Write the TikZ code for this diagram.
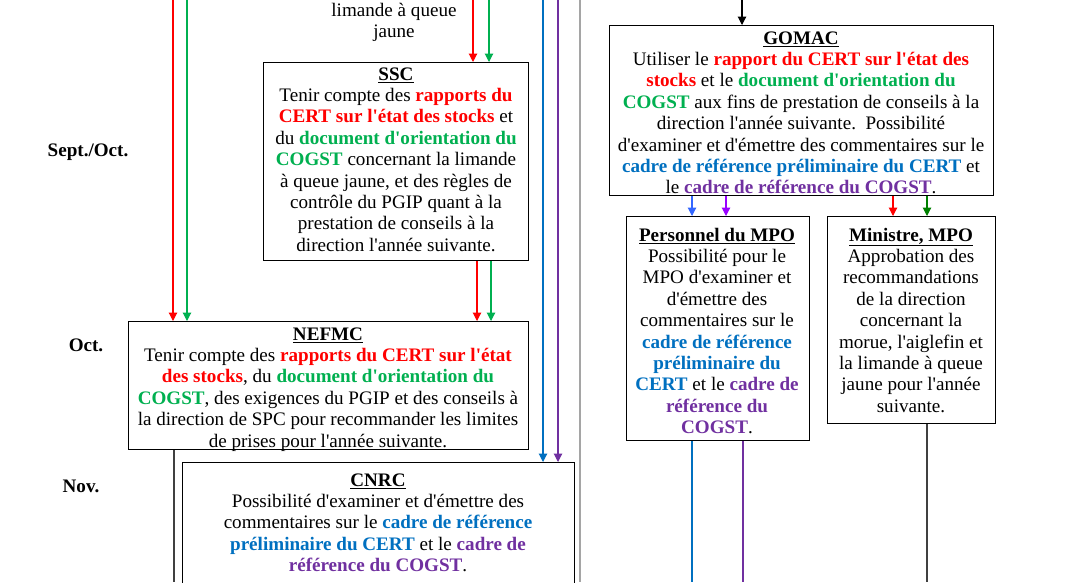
\documentclass[tikz,border=0pt]{standalone}
\usepackage{fontspec}
\newfontfamily\tnr{Liberation Serif}
\usetikzlibrary{arrows.meta}
\definecolor{tred}{RGB}{255,0,0}
\definecolor{tgreen}{RGB}{0,176,80}
\definecolor{tblue}{RGB}{0,112,192}
\definecolor{tpurple}{RGB}{112,48,160}
\definecolor{lblue}{RGB}{51,102,255}
\definecolor{lpurple}{RGB}{153,0,255}
\definecolor{dgreen}{RGB}{0,128,0}
\definecolor{sepgray}{RGB}{165,165,165}
\definecolor{dgray}{RGB}{64,64,64}
\newcommand\rtx[1]{\textcolor{tred}{\textbf{#1}}}
\newcommand\gtx[1]{\textcolor{tgreen}{\textbf{#1}}}
\newcommand\btx[1]{\textcolor{tblue}{\textbf{#1}}}
\newcommand\ptx[1]{\textcolor{tpurple}{\textbf{#1}}}
\newcommand\ttl[1]{\underline{\textbf{#1}}\strut}
\tikzset{
  box/.style={draw, line width=1.1pt, anchor=north west, inner sep=0pt},
  txt/.style={anchor=north, align=center, inner sep=0pt, font=\tnr\fontsize{19.1}{21.4}\selectfont},
  lab/.style={anchor=base, inner sep=0pt, font=\tnr\bfseries\fontsize{19.1}{21.4}\selectfont},
  arr/.style={-{Triangle[width=8.5pt,length=8.5pt]}, line width=1.1pt},
  plain/.style={line width=1.1pt},
}
\begin{document}
\begin{tikzpicture}[x=1pt,y=-1pt]
\useasboundingbox (0,0) rectangle (1089,582);
\clip (0,0) rectangle (1089,582);
\fill[white] (0,0) rectangle (1089,582);

% boxes
\node[box, minimum width=265pt, minimum height=198pt] (ssc) at (263,62) {};
\node[box, minimum width=400pt, minimum height=128pt] (nefmc) at (128,321) {};
\node[box, minimum width=392pt, minimum height=150pt] (cnrc) at (182,462) {};
\node[box, minimum width=384pt, minimum height=170pt] (gomac) at (609,25) {};
\node[box, minimum width=183pt, minimum height=224pt] (pers) at (626,216) {};
\node[box, minimum width=168pt, minimum height=207pt] (mini) at (827,216) {};

% texts
\node[txt] (topT) at (394,1) {\strut limande à queue\\jaune};

\node[txt] (sscT) at (396,65) {\ttl{SSC}\\
Tenir compte des \rtx{rapports du}\\
\rtx{CERT sur l'état des stocks} et\\
du \gtx{document d'orientation du}\\
\gtx{COGST} concernant la limande\\
à queue jaune, et des règles de\\
contrôle du PGIP quant à la\\
prestation de conseils à la\\
direction l'année suivante.};

\node[txt] (nefmcT) at (328,325) {\ttl{NEFMC}\\
Tenir compte des \rtx{rapports du CERT sur l'état}\\
\rtx{des stocks}, du \gtx{document d'orientation du}\\
\gtx{COGST}, des exigences du PGIP et des conseils à\\
la direction de SPC pour recommander les limites\\
de prises pour l'année suivante.};

\node[txt] (cnrcT) at (378,471) {\ttl{CNRC}\\
Possibilité d'examiner et d'émettre des\\
commentaires sur le \btx{cadre de référence}\\
\btx{préliminaire du CERT} et le \ptx{cadre de}\\
\ptx{référence du COGST}.};

\node[txt] (gomacT) at (801,29) {\ttl{GOMAC}\\
Utiliser le \rtx{rapport du CERT sur l'état des}\\
\rtx{stocks} et le \gtx{document d'orientation du}\\
\gtx{COGST} aux fins de prestation de conseils à la\\
direction l'année suivante.\ \ Possibilité\\
d'examiner et d'émettre des commentaires sur le\\
\btx{cadre de référence préliminaire du CERT} et\\
le \ptx{cadre de référence du COGST}.};

\node[txt] (persT) at (717,226) {\ttl{Personnel du MPO}\\
Possibilité pour le\\
MPO d'examiner et\\
d'émettre des\\
commentaires sur le\\
\btx{cadre de référence}\\
\btx{préliminaire du}\\
\btx{CERT} et le \ptx{cadre de}\\
\ptx{référence du}\\
\ptx{COGST}.};

\node[txt] (miniT) at (911,226) {\ttl{Ministre, MPO}\\
Approbation des\\
recommandations\\
de la direction\\
concernant la\\
morue, l'aiglefin et\\
la limande à queue\\
jaune pour l'année\\
suivante.};

% month labels
\node[lab] (sep) at (88,156) {Sept./Oct.};
\node[lab] (oct) at (86,351) {Oct.};
\node[lab] (nov) at (81,492) {Nov.};

% free ends
\coordinate (tl1) at (173,0);
\coordinate (tl2) at (187,0);
\coordinate (tm1) at (473,0);
\coordinate (tm2) at (489,0);
\coordinate (tb1) at (543,0);
\coordinate (tb2) at (558,0);
\coordinate (sgt) at (580,0);
\coordinate (sgb) at (580,582);
\coordinate (tk) at (742,0);
\coordinate (bot) at (0,582);

% connectors
\draw[arr, tred] (tl1) -- (tl1 |- nefmc.north);
\draw[arr, tgreen] (tl2) -- (tl2 |- nefmc.north);
\draw[arr, tred] (tm1) -- (tm1 |- ssc.north);
\draw[arr, tgreen] (tm2) -- (tm2 |- ssc.north);
\draw[arr, tred] (ssc.south -| 477,0) -- (nefmc.north -| 477,0);
\draw[arr, tgreen] (ssc.south -| 491,0) -- (nefmc.north -| 491,0);
\draw[arr, tblue] (tb1) -- (tb1 |- cnrc.north);
\draw[arr, tpurple] (tb2) -- (tb2 |- cnrc.north);
\draw[line width=1.3pt, sepgray] (sgt) -- (sgb);
\draw[line width=2pt, dgray] (nefmc.south -| 174,0) -- (bot -| 174,0);
\draw[arr, black] (tk) -- (tk |- gomac.north);
\draw[arr, lblue] (gomac.south -| 692,0) -- (pers.north -| 692,0);
\draw[arr, lpurple] (gomac.south -| 726,0) -- (pers.north -| 726,0);
\draw[arr, tred] (gomac.south -| 893,0) -- (mini.north -| 893,0);
\draw[arr, dgreen] (gomac.south -| 927,0) -- (mini.north -| 927,0);
\draw[plain, tblue] (pers.south -| 692,0) -- (bot -| 692,0);
\draw[plain, tpurple] (pers.south -| 743,0) -- (bot -| 743,0);
\draw[line width=2pt, dgray] (mini.south -| 927,0) -- (bot -| 927,0);
\end{tikzpicture}
\end{document}
